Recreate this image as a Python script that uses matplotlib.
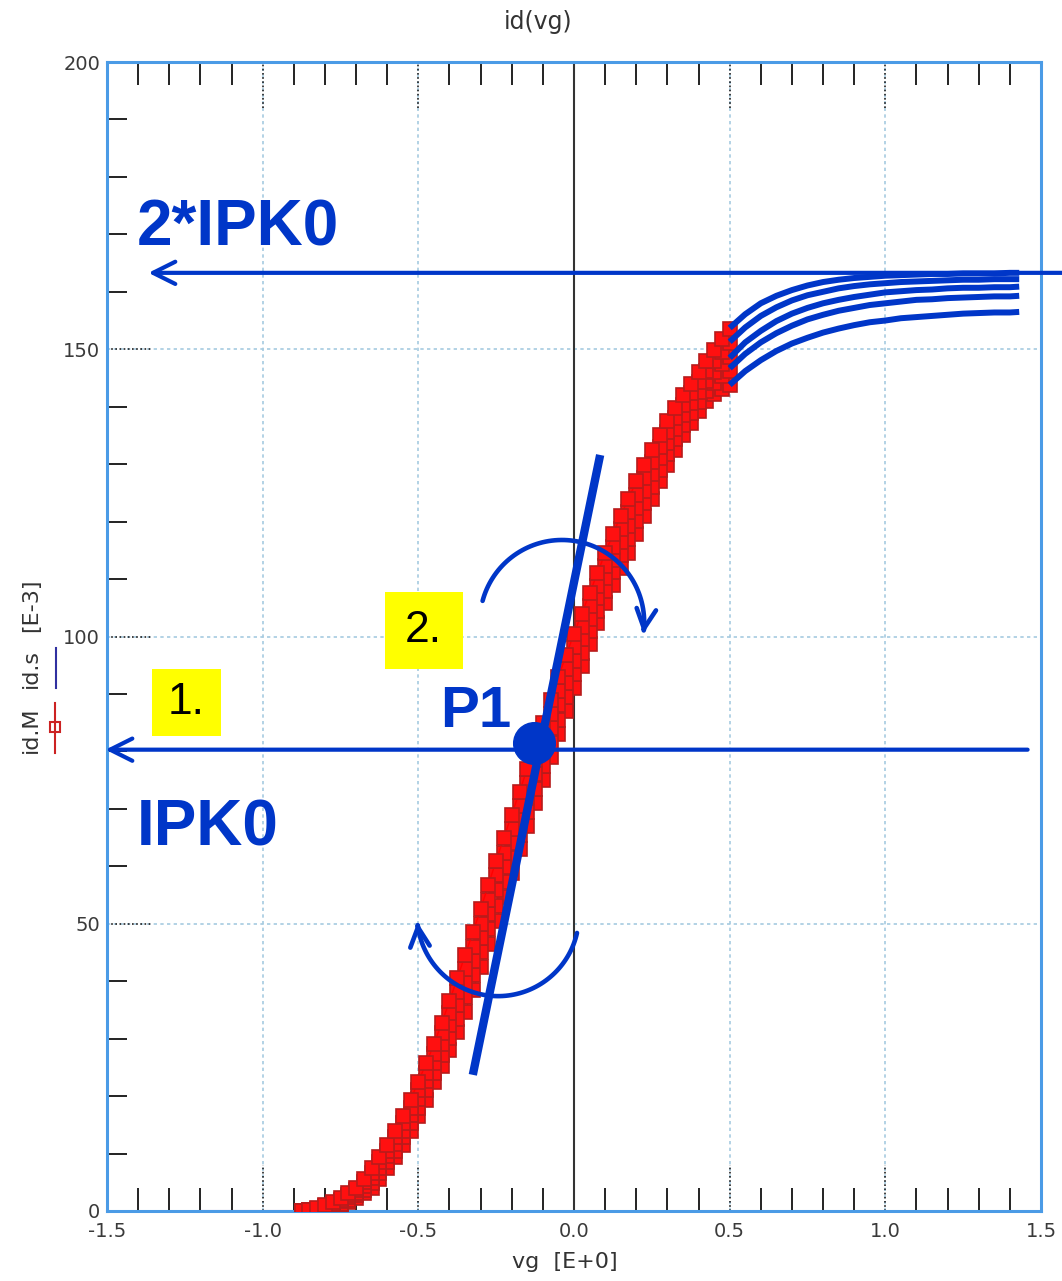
import numpy as np
import matplotlib.pyplot as plt
from matplotlib.patches import FancyArrowPatch, Rectangle
from matplotlib.path import Path
from matplotlib.lines import Line2D
from matplotlib.ticker import MultipleLocator, FormatStrFormatter

plt.rcParams['axes.unicode_minus'] = False

# measured gate sweep (V) and drain currents (mA), one list per Vds step
vg_meas = [-0.875, -0.85, -0.825, -0.8, -0.775, -0.75, -0.725, -0.7, -0.675, -0.65,
           -0.625, -0.6, -0.575, -0.55, -0.525, -0.5, -0.475, -0.45, -0.425, -0.4,
           -0.375, -0.35, -0.325, -0.3, -0.275, -0.25, -0.225, -0.2, -0.175, -0.15,
           -0.125, -0.1, -0.075, -0.05, -0.025, 0.0, 0.025, 0.05, 0.075, 0.1,
           0.125, 0.15, 0.175, 0.2, 0.225, 0.25, 0.275, 0.3, 0.325, 0.35,
           0.375, 0.4, 0.425, 0.45, 0.475, 0.5]
id_meas_1 = [0.0, 0.2, 0.5, 1.0, 1.6, 2.3, 3.1, 4.0, 5.6, 7.5,
             9.4, 11.5, 13.9, 16.5, 19.4, 22.5, 25.7, 29.0, 32.7, 36.5,
             40.5, 44.5, 48.5, 52.5, 56.8, 61.0, 65.0, 69.0, 73.0, 77.0,
             81.0, 85.0, 89.0, 93.0, 96.8, 100.5, 104.0, 107.5, 111.0, 114.5,
             117.8, 121.0, 124.0, 127.0, 129.8, 132.5, 135.0, 137.5, 139.8, 142.0,
             144.0, 146.0, 148.0, 149.8, 151.7, 153.5]
id_meas_2 = [0.0, 0.2, 0.4, 0.8, 1.3, 2.0, 2.7, 3.6, 5.0, 6.6,
             8.5, 10.5, 12.8, 15.3, 18.0, 21.0, 24.1, 27.4, 30.9, 34.4,
             38.2, 42.1, 46.0, 50.0, 54.2, 58.4, 62.4, 66.5, 70.5, 74.5,
             78.5, 82.5, 86.5, 90.5, 94.4, 98.1, 101.7, 105.3, 108.8, 112.3,
             115.6, 118.7, 121.6, 124.7, 127.6, 130.4, 133.0, 135.6, 138.0, 140.3,
             142.3, 144.3, 146.3, 147.9, 149.6, 151.1]
id_meas_3 = [0.0, 0.1, 0.2, 0.6, 1.1, 1.7, 2.4, 3.2, 4.4, 5.8,
             7.5, 9.5, 11.7, 14.0, 16.7, 19.5, 22.6, 25.8, 29.0, 32.3,
             35.9, 39.6, 43.5, 47.5, 51.7, 55.8, 59.9, 64.0, 68.0, 72.0,
             76.0, 80.0, 84.0, 88.0, 91.9, 95.8, 99.5, 103.1, 106.7, 110.2,
             113.4, 116.5, 119.3, 122.4, 125.4, 128.3, 131.0, 133.7, 136.2, 138.5,
             140.6, 142.6, 144.5, 146.0, 147.4, 148.7]
id_meas_4 = [0.0, 0.0, 0.1, 0.4, 0.8, 1.3, 2.0, 2.7, 3.7, 4.9,
             6.6, 8.5, 10.5, 12.8, 15.3, 18.0, 21.0, 24.1, 27.2, 30.2,
             33.5, 37.2, 41.0, 45.0, 49.1, 53.1, 57.3, 61.4, 65.5, 69.5,
             73.5, 77.5, 81.5, 85.5, 89.5, 93.4, 97.2, 100.9, 104.5, 108.0,
             111.2, 114.2, 116.9, 120.1, 123.2, 126.1, 129.0, 131.7, 134.3, 136.8,
             138.9, 140.9, 142.8, 144.1, 145.3, 146.2]
id_meas_5 = [0.0, 0.0, 0.0, 0.2, 0.5, 1.0, 1.6, 2.3, 3.1, 4.0,
             5.6, 7.5, 9.4, 11.5, 13.9, 16.5, 19.4, 22.5, 25.3, 28.1,
             31.2, 34.7, 38.5, 42.5, 46.5, 50.5, 54.7, 58.9, 63.0, 67.0,
             71.0, 75.0, 79.0, 83.0, 87.0, 91.0, 94.9, 98.7, 102.3, 105.8,
             109.0, 111.9, 114.5, 117.8, 121.0, 124.0, 127.0, 129.8, 132.5, 135.0,
             137.2, 139.2, 141.0, 142.2, 143.1, 143.8]

# simulated curves above the fitted range
vg_sim = [0.5, 0.55, 0.6, 0.65, 0.7, 0.75, 0.8, 0.85, 0.9, 0.95,
          1.0, 1.05, 1.1, 1.15, 1.2, 1.25, 1.3, 1.35, 1.4, 1.43]
id_sim_1 = [153.7, 156.1, 158.0, 159.3, 160.3, 161.1, 161.7, 162.1, 162.4, 162.6,
            162.8, 162.9, 163.0, 163.1, 163.1, 163.2, 163.2, 163.2, 163.3, 163.3]
id_sim_2 = [151.3, 153.8, 155.8, 157.3, 158.5, 159.4, 160.0, 160.6, 161.0, 161.3,
            161.5, 161.7, 161.8, 161.9, 162.0, 162.1, 162.1, 162.2, 162.2, 162.2]
id_sim_3 = [148.5, 151.2, 153.2, 154.9, 156.2, 157.2, 158.0, 158.6, 159.1, 159.5,
            159.9, 160.1, 160.3, 160.4, 160.6, 160.7, 160.7, 160.8, 160.8, 160.9]
id_sim_4 = [146.7, 149.2, 151.2, 152.8, 154.1, 155.2, 156.0, 156.7, 157.2, 157.7,
            158.0, 158.3, 158.6, 158.7, 158.9, 159.0, 159.1, 159.2, 159.2, 159.3]
id_sim_5 = [143.8, 146.2, 148.1, 149.7, 151.0, 152.0, 152.9, 153.6, 154.2, 154.7,
            155.0, 155.4, 155.6, 155.8, 156.0, 156.2, 156.3, 156.4, 156.4, 156.5]

# pinched-off part where measurement and simulation lie on top of each other
vg_off = [-1.2, -0.7]
id_off = [0.0, 0.0]

ipk0 = 80.3
ipk0_double = 163.3
p1 = (-0.13, 81.5)
tangent_vg = [-0.325, 0.084]
tangent_id = [23.7, 131.6]

blue = '#0036c8'
spine_blue = '#4b9be6'
grid_blue = '#a6cbe0'

fig = plt.figure(figsize=(10.62, 12.81), dpi=100)
ax = fig.add_axes([107 / 1062, 70 / 1281, 934 / 1062, 1149 / 1281])
ax.set_xlim(-1.5, 1.5)
ax.set_ylim(0, 200)

# grid and the vg = 0 line
for x in [-1.0, -0.5, 0.5, 1.0]:
    ax.axvline(x, color=grid_blue, ls=(0, (2, 2)), lw=1.2, zorder=0)
    ax.axvline(x, ymin=0, ymax=0.04, color='#222222', ls=(0, (1, 1.5)), lw=1.2, zorder=1)
    ax.axvline(x, ymin=0.96, ymax=1, color='#222222', ls=(0, (1, 1.5)), lw=1.2, zorder=1)
for y in [50, 100, 150]:
    ax.axhline(y, color=grid_blue, ls=(0, (2, 2)), lw=1.2, zorder=0)
    ax.axhline(y, xmin=0, xmax=0.048, color='#222222', ls=(0, (1, 1.5)), lw=1.2, zorder=1)
ax.axvline(0.0, color='#333333', lw=1.5, zorder=1)

ax.xaxis.set_major_locator(MultipleLocator(0.5))
ax.xaxis.set_minor_locator(MultipleLocator(0.1))
ax.xaxis.set_major_formatter(FormatStrFormatter('%.1f'))
ax.yaxis.set_major_locator(MultipleLocator(50))
ax.yaxis.set_minor_locator(MultipleLocator(10))
ax.tick_params(which='major', length=0, labelsize=14, labelcolor='#3a3a3a')
ax.tick_params(axis='x', which='major', pad=8)
ax.tick_params(axis='y', which='major', pad=5)
ax.tick_params(axis='x', which='minor', direction='in', top=True, bottom=True,
               length=16.5, width=1.4, color='#222222')
ax.tick_params(axis='y', which='minor', direction='in', left=True, right=False,
               length=14.5, width=1.4, color='#222222')
for s in ax.spines.values():
    s.set_color(spine_blue)
    s.set_linewidth(2.2)

# measured data
ax.plot(vg_off, id_off, color='#7a3a9a', lw=2.2, zorder=2)
for idm in [id_meas_5, id_meas_4, id_meas_3, id_meas_2, id_meas_1]:
    ax.plot(vg_meas, idm, color='red', lw=1.0, marker='s', ms=9.5, mfc='#ff1010',
            mec='#b81c1c', mew=1.2, zorder=3)

# simulated curves
for ids in [id_sim_1, id_sim_2, id_sim_3, id_sim_4, id_sim_5]:
    ax.plot(vg_sim, ids, color=blue, lw=4.3, solid_capstyle='butt', zorder=5)

# IPK0 and 2*IPK0 arrows
arrow_kw = dict(arrowstyle='->,head_length=1.0,head_width=0.5', mutation_scale=16,
                lw=3.0, color=blue, shrinkA=0, shrinkB=0)
ax.annotate('', xy=(-1.367, ipk0_double), xytext=(1.57, ipk0_double),
            arrowprops=arrow_kw, annotation_clip=False, zorder=6)
ax.annotate('', xy=(-1.505, ipk0), xytext=(1.457, ipk0),
            arrowprops=arrow_kw, annotation_clip=False, zorder=6)

# tangent through P1
ax.plot(tangent_vg, tangent_id, color=blue, lw=6.0, solid_capstyle='butt', zorder=6)
ax.plot(*p1, 'o', color=blue, ms=30, zorder=7)


def arc_arrow(cx, cy, rx, ry, a0, a1):
    t = np.radians(np.linspace(a0, a1, 80))
    verts = np.column_stack([cx + rx * np.cos(t), cy + ry * np.sin(t)])
    arr = FancyArrowPatch(path=Path(verts),
                          arrowstyle='->,head_length=1.0,head_width=0.5',
                          mutation_scale=14, lw=3.3, color=blue, zorder=6)
    ax.add_patch(arr)


arc_arrow(-0.0386, 102.5, 0.264, 14.3, 165, -8)
arc_arrow(-0.244, 51.5, 0.260, 14.1, -12.7, -175)

# labels on the plot
bold = dict(family='Liberation Sans', weight='bold', color=blue)
ax.text(-1.405, 168.1, '2*IPK0', fontsize=46, ha='left', va='baseline', zorder=8, **bold)
ax.text(-1.405, 63.7, 'IPK0', fontsize=46, ha='left', va='baseline', zorder=8, **bold)
ax.text(-0.431, 84.2, 'P1', fontsize=42, ha='left', va='baseline', zorder=8, **bold)

for (x0, x1, y0, y1, s) in [(-1.354, -1.135, 82.7, 94.3, '1.'),
                            (-0.608, -0.357, 94.3, 107.7, '2.')]:
    ax.add_patch(Rectangle((x0, y0), x1 - x0, y1 - y0, facecolor='#ffff00',
                           edgecolor='none', zorder=8))
    ax.text((x0 + x1) / 2, (y0 + y1) / 2, s, fontsize=32, family='Liberation Sans',
            ha='center', va='center', color='black', zorder=9)

# title, axis label and the y label with its legend samples
fig.text(538 / 1062, 1 - 22 / 1281, 'id(vg)', fontsize=17, color='#333333',
         ha='center', va='center')
fig.text(565 / 1062, 1 - 1262 / 1281, 'vg  [E+0]', fontsize=16, color='#333333',
         ha='center', va='center')
fig.text(31 / 1062, 1 - 730 / 1281, 'id.M', fontsize=16, color='#333333',
         rotation=90, ha='center', va='center')
fig.text(31 / 1062, 1 - 668 / 1281, 'id.s', fontsize=16, color='#333333',
         rotation=90, ha='center', va='center')
fig.text(31 / 1062, 1 - 605 / 1281, '[E-3]', fontsize=16, color='#333333',
         rotation=90, ha='center', va='center')
fig.add_artist(Line2D([55 / 1062, 55 / 1062], [1 - 753 / 1281, 1 - 703 / 1281],
                      color='#cc2222', lw=1.5, transform=fig.transFigure))
fig.add_artist(Line2D([55 / 1062], [1 - 727 / 1281], marker='s', ms=7, mfc='none',
                      mec='#cc2222', mew=1.5, transform=fig.transFigure))
fig.add_artist(Line2D([56 / 1062, 56 / 1062], [1 - 688 / 1281, 1 - 648 / 1281],
                      color='#3030a0', lw=1.5, transform=fig.transFigure))

fig.savefig('out.png', dpi=100)
